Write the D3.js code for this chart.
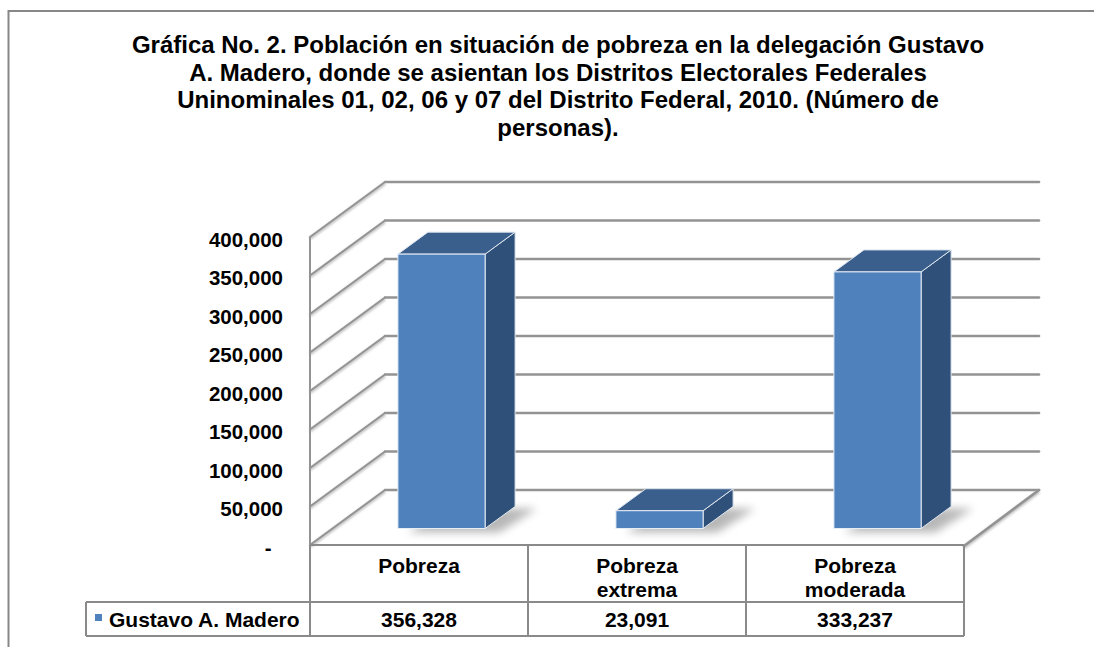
<!DOCTYPE html>
<html>
<head>
<meta charset="utf-8">
<script src="https://cdn.jsdelivr.net/npm/d3@7"></script>
<style>
  html, body { margin: 0; padding: 0; background: #fff; overflow: hidden; }
  svg { display: block; }
  text { font-family: "Liberation Sans", Arial, Helvetica, sans-serif; font-weight: bold; fill: #000; }
</style>
</head>
<body>
<svg id="chart" width="1094" height="647"></svg>
<script>
// ---------------- data ----------------
const titleLines = [
  "Gráfica No. 2. Población en situación de pobreza en la delegación Gustavo",
  "A. Madero, donde se asientan los Distritos Electorales Federales",
  "Uninominales 01, 02, 06 y 07 del Distrito Federal, 2010. (Número de",
  "personas)."
];
const categories = ["Pobreza", "Pobreza extrema", "Pobreza moderada"];
const categoryLines = [["Pobreza"], ["Pobreza", "extrema"], ["Pobreza", "moderada"]];
const seriesName = "Gustavo A. Madero";
const values = [356328, 23091, 333237];
const yTicks = [0, 50000, 100000, 150000, 200000, 250000, 300000, 350000, 400000];

// ---------------- layout ----------------
const svg = d3.select("#chart");
const plotLeft = 310, plotRight = 964;
const yBase = 545, yTopPx = 237;
const depth = { dx: 75, dy: -55 };
const barFront = 0.3, barBack = 0.7, barWidthFrac = 0.4;
const legendLeft = 86, rowMid = 602, rowBottom = 636;

const fmt = d3.format(",");
const x = d3.scaleBand().domain(categories).range([plotLeft, plotRight]).paddingInner(0).paddingOuter(0);
const y = d3.scaleLinear().domain([0, 400000]).range([yBase, yTopPx]);

const defs = svg.append("defs");
defs.append("filter").attr("id", "blur").attr("x", "-50%").attr("y", "-50%").attr("width", "200%").attr("height", "200%")
  .append("feGaussianBlur").attr("stdDeviation", 4);
defs.append("filter").attr("id", "lineShadow").attr("x", "-5%").attr("y", "-200%").attr("width", "110%").attr("height", "500%")
  .append("feGaussianBlur").attr("stdDeviation", 1);

// outer chart border: only top and left edges are inside the picture
svg.append("path").attr("d", "M8.5,647 L8.5,11 L1094,11")
  .attr("fill", "none").attr("stroke", "#878787").attr("stroke-width", 2);

// title
svg.append("g").selectAll("text").data(titleLines).join("text")
  .attr("x", 558).attr("y", (d, i) => 53 + i * 27.5)
  .attr("text-anchor", "middle").attr("font-size", "24px").text(d => d);

// ---------------- walls & gridlines ----------------
const grid = svg.append("g");
function gridLine(x1, y1, x2, y2, w) {
  grid.append("line").attr("x1", x1).attr("y1", y1 + 1.5).attr("x2", x2).attr("y2", y2 + 1.5)
    .attr("stroke", "#c4c4c4").attr("stroke-width", w + 1).attr("filter", "url(#lineShadow)");
  grid.append("line").attr("x1", x1).attr("y1", y1).attr("x2", x2).attr("y2", y2)
    .attr("stroke", "#939393").attr("stroke-width", w).attr("stroke-linecap", "round");
}
yTicks.forEach(t => {
  const yf = y(t);
  gridLine(plotLeft + depth.dx, yf + depth.dy, plotRight + depth.dx, yf + depth.dy, 2.6);
  gridLine(plotLeft, yf, plotLeft + depth.dx, yf + depth.dy, 2);
});
gridLine(plotRight, yBase + 1, plotRight + depth.dx, yBase + depth.dy, 2.6);
grid.append("line").attr("x1", plotLeft).attr("y1", y(400000)).attr("x2", plotLeft).attr("y2", yBase)
  .attr("stroke", "#939393").attr("stroke-width", 2);

// ---------------- bars ----------------
const bw = x.bandwidth();
const f = { dx: depth.dx * barFront, dy: depth.dy * barFront };
const b = { dx: depth.dx * barBack, dy: depth.dy * barBack };
const bars = svg.append("g");
const barData = categories.map((c, i) => ({ c, v: values[i] }));

bars.selectAll("polygon.shadow").data(barData).join("polygon").attr("class", "shadow")
  .attr("points", d => {
    const x0 = x(d.c) + bw * (1 - barWidthFrac) / 2, x1 = x0 + bw * barWidthFrac, y0 = y(0);
    return [[x0 + f.dx + 10, y0 + f.dy + 4], [x1 + f.dx + 14, y0 + f.dy + 4],
            [x1 + b.dx + 22, y0 + b.dy + 2], [x0 + b.dx + 18, y0 + b.dy + 2]].map(p => p.join(",")).join(" ");
  })
  .attr("fill", "#000").attr("opacity", 0.28).attr("filter", "url(#blur)");

const barG = bars.selectAll("g.bar").data(barData).join("g").attr("class", "bar");
barG.each(function(d) {
  const g = d3.select(this);
  const x0 = x(d.c) + bw * (1 - barWidthFrac) / 2, x1 = x0 + bw * barWidthFrac;
  const yv = y(d.v), y0 = y(0);
  const pts = a => a.map(p => p.join(",")).join(" ");
  g.append("polygon").attr("points", pts([[x1 + f.dx, yv + f.dy], [x1 + b.dx, yv + b.dy], [x1 + b.dx, y0 + b.dy], [x1 + f.dx, y0 + f.dy]]))
    .attr("fill", "#2f5179").attr("stroke", "#dfe6ef").attr("stroke-width", 1).attr("stroke-linejoin", "round");
  g.append("polygon").attr("points", pts([[x0 + f.dx, yv + f.dy], [x1 + f.dx, yv + f.dy], [x1 + b.dx, yv + b.dy], [x0 + b.dx, yv + b.dy]]))
    .attr("fill", "#3b5f8d").attr("stroke", "#dfe6ef").attr("stroke-width", 1).attr("stroke-linejoin", "round");
  g.append("rect").attr("x", x0 + f.dx).attr("y", yv + f.dy).attr("width", x1 - x0).attr("height", y0 - yv)
    .attr("fill", "#4f81bd").attr("stroke", "#e6edf5").attr("stroke-width", 1);
});

// ---------------- y axis labels ----------------
const axis = d3.axisLeft(y).tickValues(yTicks).tickSize(0).tickPadding(0)
  .tickFormat(d => d === 0 ? "-\u00A0\u00A0" : fmt(d));
const axG = svg.append("g").attr("transform", "translate(283,0)").call(axis);
axG.select(".domain").remove();
axG.selectAll("text").attr("font-size", "20.5px").attr("dy", "0.46em").attr("fill", "#000");
axG.attr("font-family", null).attr("font-size", null);

// ---------------- data table ----------------
const table = svg.append("g");
const tl = (x1, y1, x2, y2) => table.append("line").attr("x1", x1).attr("y1", y1).attr("x2", x2).attr("y2", y2)
  .attr("stroke", "#8a8a8a").attr("stroke-width", 2);
tl(plotLeft, yBase, plotRight, yBase);
tl(legendLeft, rowMid, plotRight, rowMid);
tl(legendLeft, rowBottom, plotRight, rowBottom);
tl(legendLeft, rowMid, legendLeft, rowBottom);
const colEdges = [plotLeft].concat(categories.map(c => x(c) + bw));
colEdges.forEach(cx => tl(cx, yBase, cx, rowBottom));

table.selectAll("text.cat").data(categoryLines).join("text").attr("class", "cat")
  .attr("x", (d, i) => x(categories[i]) + bw / 2).attr("y", 573)
  .attr("text-anchor", "middle").attr("font-size", "21px")
  .selectAll("tspan").data(d => d).join("tspan")
  .attr("x", function() { return d3.select(this.parentNode).attr("x"); })
  .attr("dy", (d, i) => i === 0 ? 0 : 24).text(d => d);

table.selectAll("text.val").data(barData).join("text").attr("class", "val")
  .attr("x", d => x(d.c) + bw / 2).attr("y", 626.5)
  .attr("text-anchor", "middle").attr("font-size", "21px").text(d => fmt(d.v));

table.append("rect").attr("x", 95).attr("y", 614).attr("width", 7).attr("height", 7).attr("fill", "#4f81bd");
table.append("text").attr("x", 109).attr("y", 626.5).attr("font-size", "21px").text(seriesName);
</script>
</body>
</html>
